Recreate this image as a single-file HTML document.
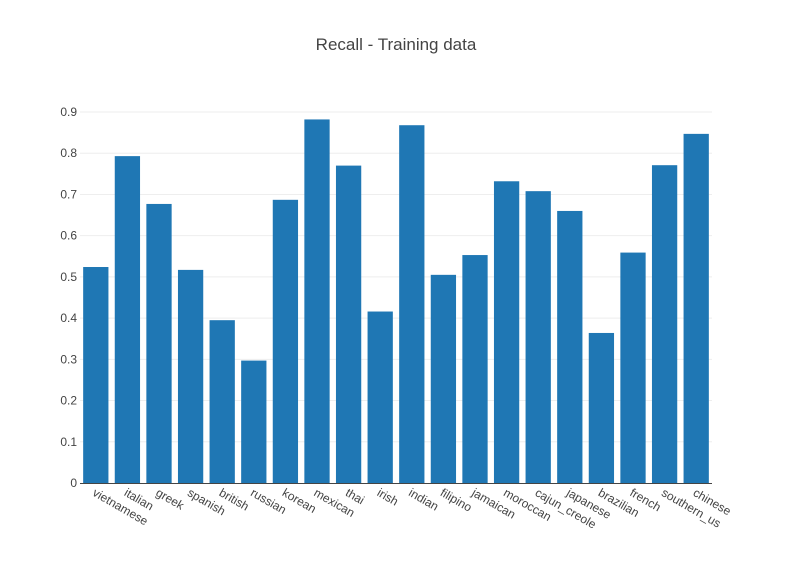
<!DOCTYPE html>
<html><head><meta charset="utf-8"><style>
body{margin:0;background:#fff;}
svg{font-family:"Liberation Sans",Arial,sans-serif;}
</style></head><body>
<svg id="chart" width="792" height="563">
<rect width="792" height="563" fill="#fff"/>
<text x="396" y="50" text-anchor="middle" font-size="17" fill="#444">Recall - Training data</text>
<g id="grid"></g><g id="bars"></g><g id="xlabels"></g><g id="ylabels"></g>
<line x1="80" x2="712" y1="483.5" y2="483.5" stroke="#444" stroke-width="1"/>
</svg>
<script>
const categories=["vietnamese","italian","greek","spanish","british","russian","korean","mexican","thai","irish","indian","filipino","jamaican","moroccan","cajun_creole","japanese","brazilian","french","southern_us","chinese"];
const recallValues=[0.524,0.793,0.677,0.517,0.395,0.297,0.687,0.882,0.770,0.416,0.868,0.505,0.553,0.732,0.708,0.660,0.364,0.559,0.771,0.847];
const yTicks=[0,0.1,0.2,0.3,0.4,0.5,0.6,0.7,0.8,0.9];
const yTickLabels=["0","0.1","0.2","0.3","0.4","0.5","0.6","0.7","0.8","0.9"];
const NS="http://www.w3.org/2000/svg";
const x0=80,x1=712,yBase=483,yPerUnit=412.2;
const band=(x1-x0)/categories.length;
const xScale=i=>x0+band*i;
const yScale=v=>yBase-v*yPerUnit;
const grid=document.getElementById('grid'),bars=document.getElementById('bars'),xl=document.getElementById('xlabels'),yl=document.getElementById('ylabels');
yTicks.forEach((t,i)=>{
  if(t>0){const l=document.createElementNS(NS,'line');
  l.setAttribute('x1',x0);l.setAttribute('x2',x1);l.setAttribute('y1',yScale(t));l.setAttribute('y2',yScale(t));
  l.setAttribute('stroke','#eee');
  
  
  grid.appendChild(l);}
  const tx=document.createElementNS(NS,'text');
  tx.setAttribute('x',77);tx.setAttribute('y',yScale(t)+4);tx.setAttribute('text-anchor','end');
  tx.setAttribute('font-size','12');tx.setAttribute('fill','#444');tx.textContent=yTickLabels[i];
  
  
  yl.appendChild(tx);
});
categories.forEach((c,i)=>{
  const w=band*0.8,x=xScale(i)+band*0.1,y=yScale(recallValues[i]);
  const r=document.createElementNS(NS,'rect');
  r.setAttribute('x',x);r.setAttribute('y',y);r.setAttribute('width',w);r.setAttribute('height',yBase-y);
  r.setAttribute('fill','#1f77b4');
  
  
  bars.appendChild(r);
  const cx=xScale(i)+band/2;
  const t=document.createElementNS(NS,'text');
  t.setAttribute('transform','translate('+(cx-4)+',495) rotate(30)');
  t.setAttribute('font-size','12');t.setAttribute('fill','#444');t.textContent=c;
  
  
  xl.appendChild(t);
});
</script>
</body></html>
